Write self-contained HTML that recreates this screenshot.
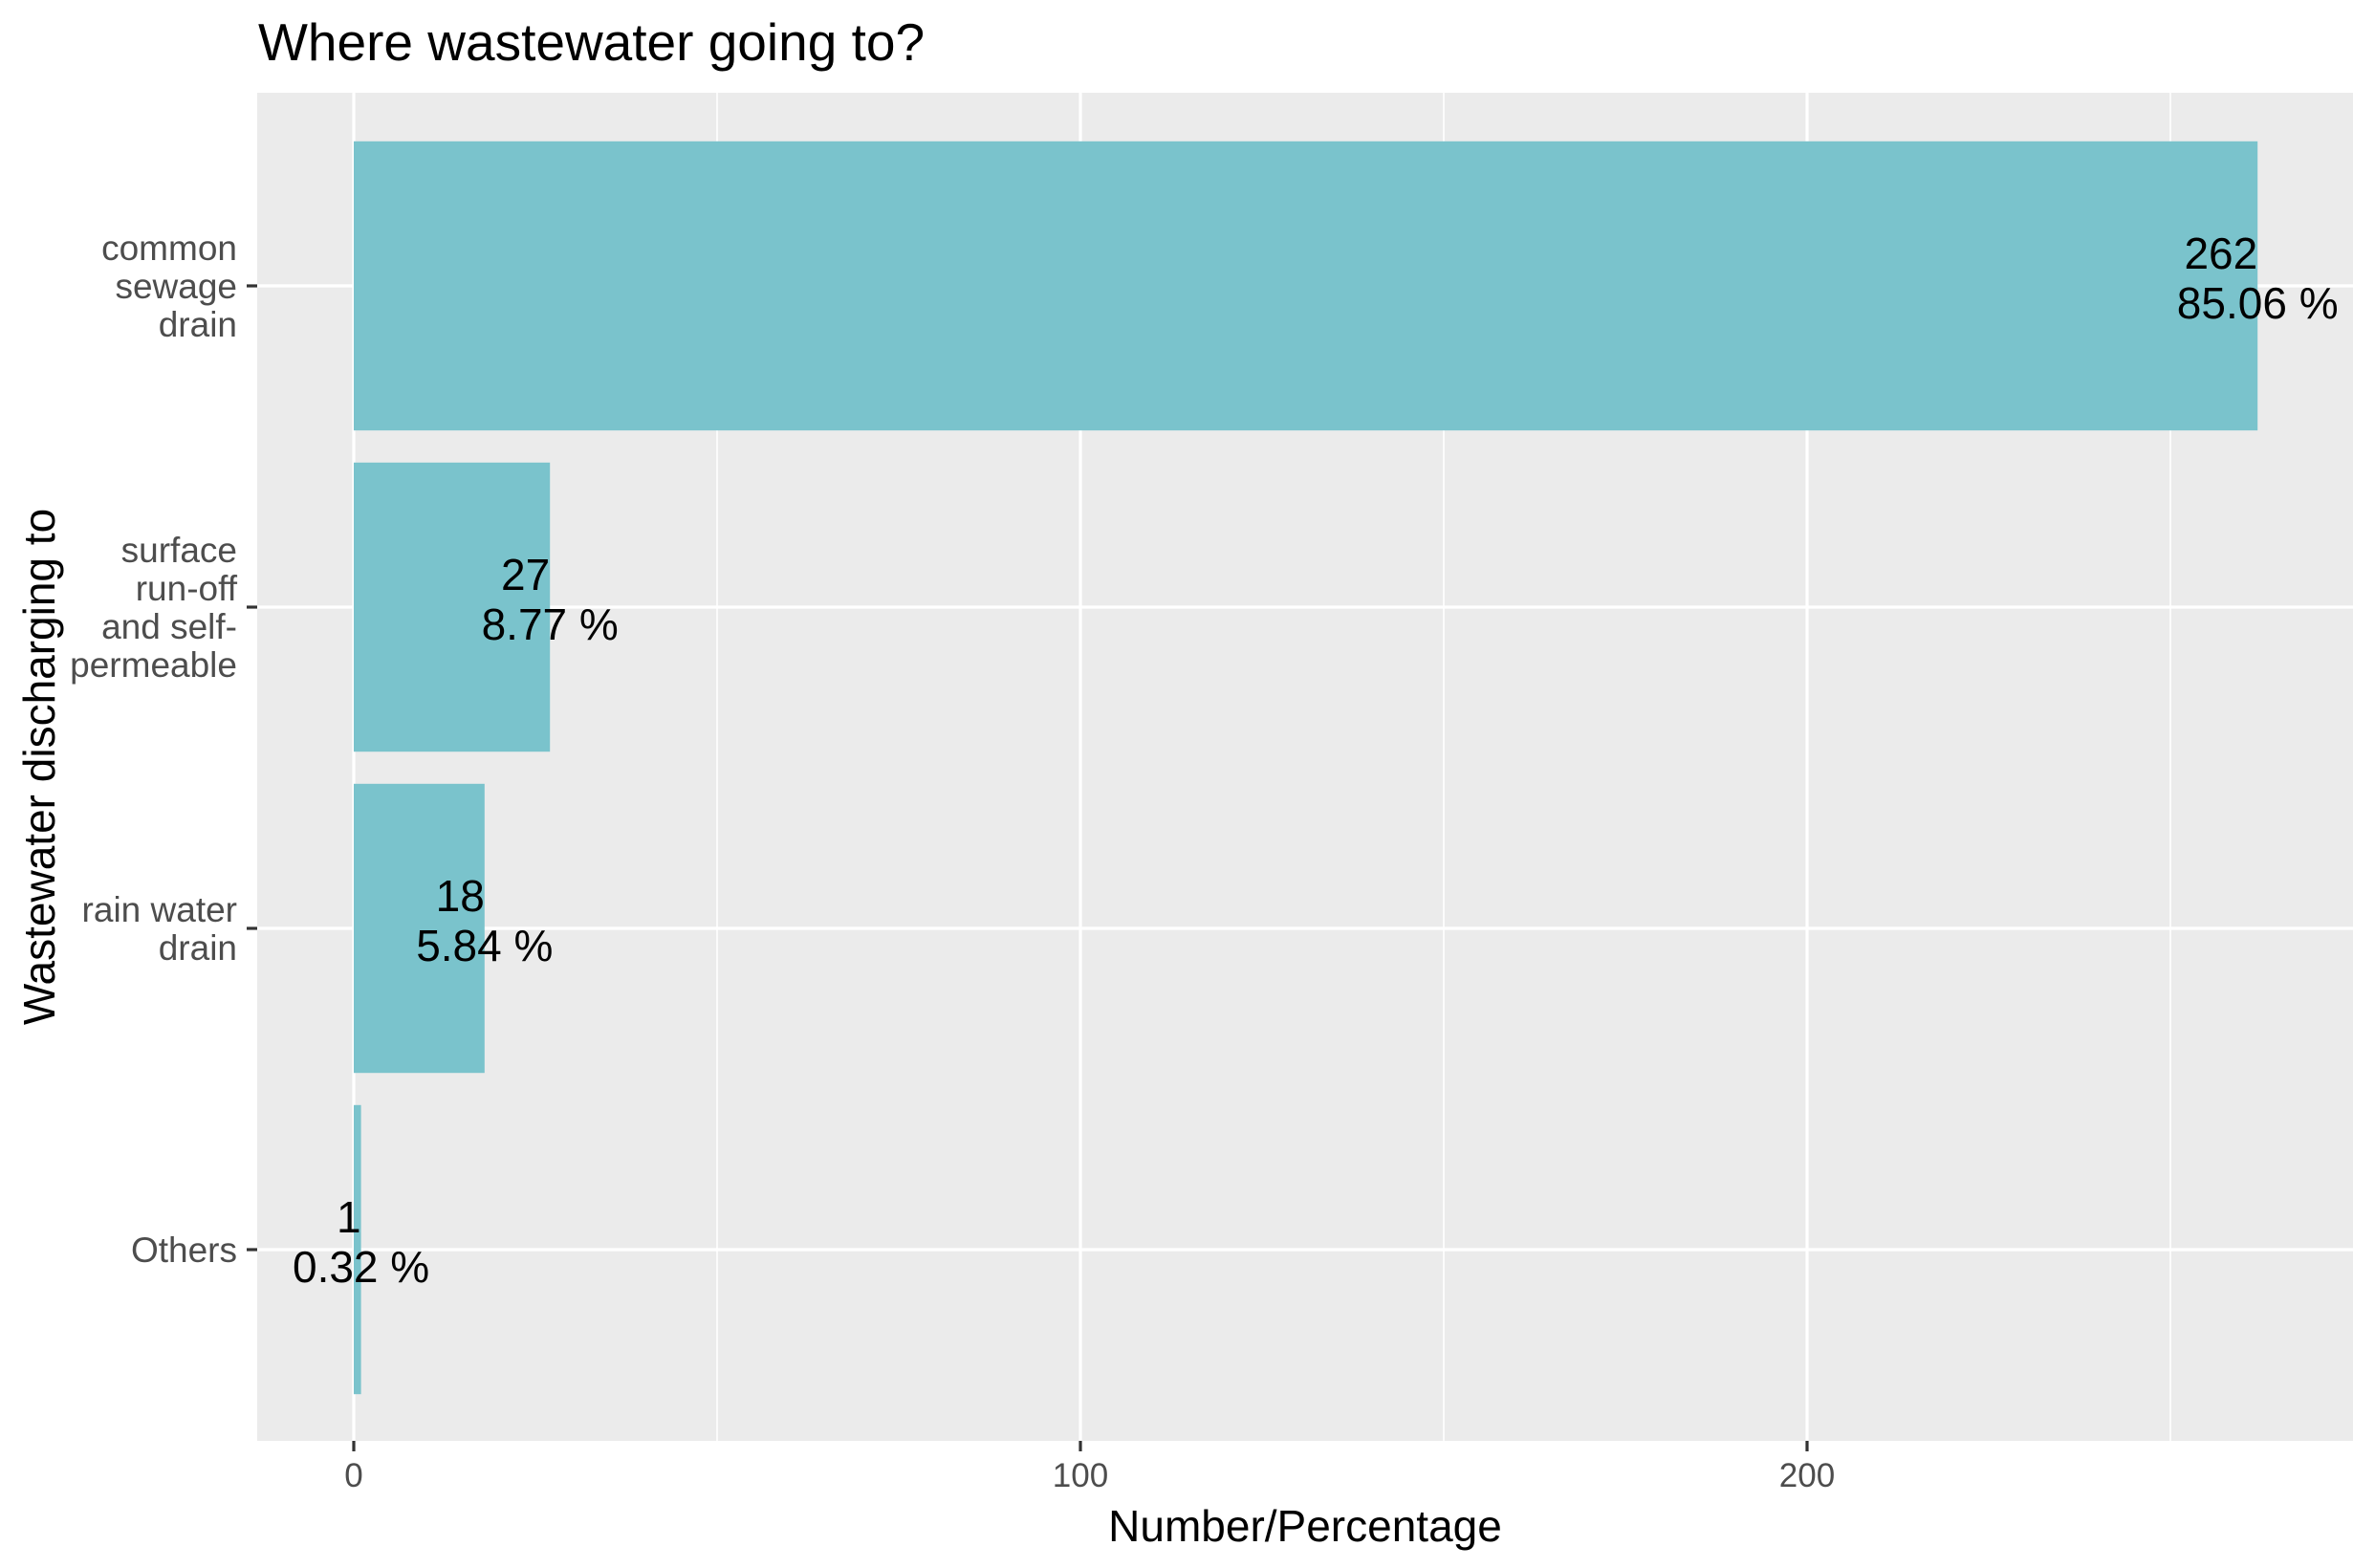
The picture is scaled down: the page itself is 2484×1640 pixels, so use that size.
<!DOCTYPE html>
<html><head><meta charset="utf-8"><style>
html,body{margin:0;padding:0;background:#fff}
svg{display:block;font-family:"Liberation Sans",Arial,sans-serif}
</style></head><body>
<svg id="chart" width="2484" height="1640" viewBox="0 0 2484 1640" xmlns="http://www.w3.org/2000/svg">
<rect width="2484" height="1640" fill="#fff"/>
<text x="270" y="63" font-size="55" fill="#000">Where wastewater going to?</text>
<rect x="269" y="97" width="2192" height="1410" fill="#EBEBEB"/>
<g id="grid"></g><g id="bars"></g><g id="labels"></g><g id="yaxis"></g><g id="xaxis"></g>
<text x="1365" y="1612" font-size="46" text-anchor="middle" fill="#000">Number/Percentage</text>
<text transform="translate(57,802) rotate(-90)" font-size="46" text-anchor="middle" fill="#000">Wastewater discharging to</text>
</svg>
<script>
const categories = [["common","sewage","drain"],["surface","run-off","and self-","permeable"],["rain water","drain"],["Others"]];
const counts = [262, 27, 18, 1];
const percents = ["85.06 %", "8.77 %", "5.84 %", "0.32 %"];
const xTicks = [0, 100, 200];
const xMinor = [50, 150, 250];

const NS = "http://www.w3.org/2000/svg";
const x = v => 370 + v * 7.6;
const step = 336;
const y = i => 299 + i * step;
const bw = 0.9 * step;
function mk(tag, attrs, parent){const e=document.createElementNS(NS,tag);for(const k in attrs)e.setAttribute(k,attrs[k]);document.getElementById(parent).appendChild(e);return e;}

xMinor.forEach(v=>{
  const l=mk('line',{x1:x(v),x2:x(v),y1:97,y2:1507,stroke:'#fff','stroke-width':1.6},'grid');
  
  
});
xTicks.forEach(v=>{
  const l=mk('line',{x1:x(v),x2:x(v),y1:97,y2:1507,stroke:'#fff','stroke-width':3.2},'grid');
  
  
  const t=mk('line',{x1:x(v),x2:x(v),y1:1507,y2:1518,stroke:'#333','stroke-width':3.2},'xaxis');
  
  
  const tx=mk('text',{x:x(v),y:1555,'font-size':35,'text-anchor':'middle',fill:'#4D4D4D'},'xaxis');
  tx.textContent=v;
  
  
});
categories.forEach((c,i)=>{
  const g=mk('line',{x1:269,x2:2461,y1:y(i),y2:y(i),stroke:'#fff','stroke-width':3.2},'grid');
  
  
  const r=mk('rect',{x:x(0),y:y(i)-bw/2,width:x(counts[i])-x(0),height:bw,fill:'#7AC3CC'},'bars');
  
  
  const l1=mk('text',{x:x(counts[i]),y:y(i)-18,'font-size':46,'text-anchor':'end',fill:'#000'},'labels');
  l1.textContent=counts[i];
  
  
  const l2=mk('text',{x:x(counts[i]),y:y(i)+34,'font-size':46,'text-anchor':'middle',fill:'#000'},'labels');
  l2.textContent=percents[i];
  
  
  const tk=mk('line',{x1:258,x2:269,y1:y(i),y2:y(i),stroke:'#333','stroke-width':3.2},'yaxis');
  
  
  const tl=mk('text',{'font-size':37,'text-anchor':'end',fill:'#4D4D4D'},'yaxis');
  
  
  const n=c.length, lh=40;
  c.forEach((line,j)=>{
    const sp=document.createElementNS(NS,'tspan');
    sp.setAttribute('x',248);
    sp.setAttribute('y',y(i)+13+(j-(n-1)/2)*lh);
    sp.textContent=line;tl.appendChild(sp);
  });
});
</script>
</body></html>
